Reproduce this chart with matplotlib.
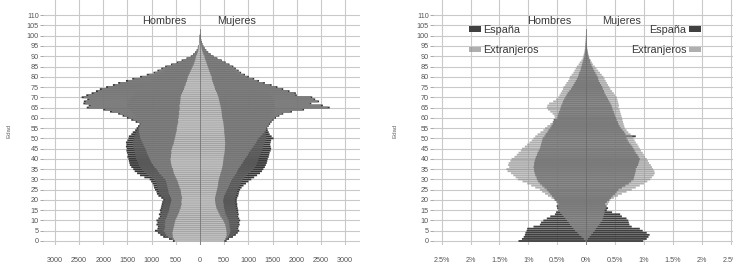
import numpy as np
import matplotlib
matplotlib.use('Agg')
import matplotlib.pyplot as plt
from matplotlib.patches import Patch

plt.rcParams['font.family'] = ['Liberation Sans', 'DejaVu Sans']

# Edades (un año por barra)
edad = np.arange(0, 101)

# ---- Pirámide izquierda: número de personas, cuatro series superpuestas ----
# Hombres
hom_1 = [560, 640, 760, 820, 870, 930, 880, 870, 900, 880,
         900, 860, 830, 850, 820, 830, 810, 800, 790, 780,
         760, 800, 860, 890, 900, 930, 950, 960, 980, 1010,
         1040, 1150, 1240, 1300, 1350, 1380, 1420, 1450, 1460, 1470,
         1480, 1500, 1490, 1510, 1520, 1515, 1530, 1520, 1530, 1500,
         1480, 1470, 1420, 1390, 1340, 1310, 1280, 1250, 1330, 1420,
         1510, 1600, 1690, 1860, 2000, 2340, 2300, 2410, 2400, 2330,
         2445, 2350, 2240, 2150, 2070, 1940, 1800, 1690, 1530, 1400,
         1240, 1100, 960, 880, 800, 720, 600, 480, 380, 280,
         190, 140, 100, 70, 45, 30, 20, 14, 10, 8, 6]
hom_2 = [540, 620, 730, 790, 840, 890, 850, 840, 860, 850,
         860, 830, 800, 810, 790, 790, 780, 770, 760, 750,
         730, 760, 810, 840, 850, 870, 880, 890, 900, 920,
         950, 1000, 1060, 1110, 1160, 1200, 1230, 1260, 1280, 1300,
         1320, 1330, 1340, 1350, 1360, 1370, 1380, 1380, 1390, 1380,
         1370, 1360, 1340, 1320, 1300, 1280, 1250, 1230, 1250, 1300,
         1300, 1320, 1350, 1400, 1450, 1500, 1500, 1500, 1480, 1450,
         1420, 1380, 1340, 1300, 1250, 1200, 1150, 1100, 1050, 1000,
         950, 880, 800, 730, 660, 600, 500, 400, 320, 240,
         160, 120, 85, 60, 40, 26, 17, 12, 8, 6, 5]
hom_3 = [520, 580, 660, 700, 720, 750, 730, 720, 730, 720,
         720, 700, 680, 670, 650, 640, 630, 620, 610, 600,
         590, 600, 620, 640, 650, 660, 670, 680, 690, 700,
         720, 760, 800, 840, 870, 900, 940, 970, 1000, 1020,
         1040, 1060, 1080, 1100, 1110, 1130, 1150, 1170, 1190, 1210,
         1230, 1240, 1250, 1260, 1260, 1270, 1250, 1230, 1300, 1390,
         1480, 1570, 1660, 1820, 1960, 2300, 2260, 2370, 2360, 2290,
         2400, 2310, 2200, 2110, 2030, 1900, 1760, 1650, 1490, 1360,
         1200, 1060, 930, 850, 770, 690, 575, 460, 360, 265,
         180, 132, 94, 65, 42, 28, 18, 13, 9, 7, 5]
hom_4 = [520, 540, 560, 565, 570, 560, 550, 540, 530, 520,
         510, 490, 470, 450, 430, 420, 400, 390, 380, 385,
         380, 370, 380, 390, 395, 400, 420, 430, 450, 460,
         480, 500, 520, 540, 550, 560, 580, 590, 600, 605,
         610, 600, 600, 590, 595, 580, 570, 550, 540, 530,
         520, 510, 500, 490, 480, 480, 470, 460, 450, 455,
         440, 440, 430, 435, 420, 420, 425, 410, 410, 400,
         400, 390, 370, 350, 330, 320, 300, 290, 270, 260,
         250, 230, 210, 190, 170, 150, 130, 115, 100, 90,
         80, 60, 45, 35, 28, 22, 15, 10, 7, 5, 4]
# Mujeres
muj_1 = [550, 600, 680, 740, 780, 810, 790, 800, 820, 810,
         830, 810, 790, 800, 790, 790, 780, 770, 770, 760,
         760, 770, 790, 800, 810, 830, 860, 900, 950, 1000,
         1060, 1120, 1180, 1240, 1280, 1310, 1340, 1360, 1380, 1390,
         1400, 1420, 1430, 1440, 1460, 1470, 1460, 1450, 1460, 1470,
         1520, 1480, 1440, 1420, 1400, 1390, 1420, 1450, 1480, 1520,
         1570, 1640, 1720, 1900, 2150, 2680, 2540, 2300, 2460, 2380,
         2320, 2000, 1980, 1850, 1720, 1600, 1480, 1340, 1220, 1120,
         1010, 930, 850, 800, 740, 690, 610, 530, 450, 360,
         280, 220, 170, 130, 95, 70, 50, 35, 25, 18, 14]
muj_2 = [530, 580, 655, 710, 750, 780, 760, 770, 790, 780,
         800, 780, 760, 765, 755, 750, 740, 735, 730, 725,
         720, 730, 745, 755, 765, 780, 800, 820, 840, 860,
         880, 920, 960, 1000, 1050, 1100, 1130, 1160, 1180, 1200,
         1210, 1230, 1250, 1260, 1280, 1300, 1310, 1320, 1340, 1350,
         1370, 1370, 1360, 1360, 1350, 1350, 1360, 1380, 1400, 1420,
         1440, 1460, 1480, 1500, 1520, 1540, 1540, 1530, 1520, 1500,
         1480, 1450, 1420, 1380, 1340, 1300, 1250, 1200, 1100, 1000,
         900, 830, 760, 720, 660, 610, 540, 470, 400, 320,
         250, 195, 150, 115, 84, 60, 43, 30, 21, 15, 12]
muj_3 = [500, 540, 580, 600, 620, 630, 620, 610, 610, 600,
         590, 570, 550, 530, 520, 510, 500, 490, 490, 480,
         480, 490, 500, 520, 540, 560, 580, 600, 620, 640,
         660, 690, 720, 750, 770, 790, 820, 850, 880, 900,
         930, 960, 990, 1010, 1040, 1070, 1100, 1130, 1160, 1180,
         1210, 1250, 1290, 1330, 1360, 1370, 1400, 1430, 1460, 1500,
         1550, 1620, 1700, 1870, 2120, 2640, 2500, 2270, 2430, 2350,
         2290, 1970, 1950, 1820, 1690, 1570, 1450, 1310, 1190, 1090,
         980, 900, 825, 775, 715, 665, 590, 510, 435, 345,
         268, 210, 162, 124, 90, 66, 47, 33, 23, 17, 13]
muj_4 = [500, 520, 540, 550, 550, 545, 540, 530, 520, 500,
         480, 450, 420, 400, 380, 360, 340, 330, 320, 315,
         310, 310, 320, 330, 340, 350, 360, 370, 375, 380,
         390, 400, 415, 425, 440, 450, 460, 470, 475, 480,
         485, 490, 500, 505, 510, 515, 515, 520, 520, 515,
         515, 510, 505, 500, 500, 495, 490, 485, 480, 470,
         460, 455, 450, 445, 440, 430, 420, 410, 400, 390,
         380, 365, 350, 330, 310, 300, 285, 270, 255, 245,
         240, 220, 205, 190, 175, 160, 145, 130, 115, 100,
         90, 70, 55, 42, 32, 25, 18, 13, 9, 6, 4]
colores_izq = ['#383838', '#5a5a5a', '#7e7e7e', '#bebebe']

# ---- Pirámide derecha: % por lugar de nacimiento ----
esp_hom = [1.17, 1.11, 1.08, 1.06, 1.05, 1.03, 1.02, 0.91, 0.80, 0.78,
           0.74, 0.68, 0.62, 0.54, 0.52, 0.48, 0.50, 0.51, 0.48, 0.50,
           0.54, 0.56, 0.59, 0.62, 0.65, 0.68, 0.72, 0.76, 0.80, 0.83,
           0.85, 0.86, 0.88, 0.89, 0.90, 0.90, 0.91, 0.90, 0.90, 0.89,
           0.88, 0.87, 0.85, 0.84, 0.82, 0.80, 0.79, 0.78, 0.77, 0.76,
           0.75, 0.72, 0.70, 0.67, 0.65, 0.62, 0.60, 0.58, 0.57, 0.56,
           0.50, 0.49, 0.48, 0.47, 0.45, 0.44, 0.43, 0.41, 0.40, 0.38,
           0.36, 0.34, 0.32, 0.29, 0.26, 0.24, 0.22, 0.20, 0.18, 0.16,
           0.14, 0.13, 0.12, 0.10, 0.09, 0.08, 0.07, 0.06, 0.05, 0.04,
           0.03, 0.025, 0.02, 0.015, 0.012, 0.01, 0.008, 0.006, 0.004, 0.003, 0.002]
ext_hom = [0.01, 0.04, 0.08, 0.12, 0.15, 0.19, 0.22, 0.25, 0.28, 0.30,
           0.33, 0.36, 0.39, 0.42, 0.45, 0.47, 0.48, 0.49, 0.50, 0.52,
           0.55, 0.60, 0.66, 0.71, 0.76, 0.80, 0.88, 0.95, 1.02, 1.10,
           1.18, 1.22, 1.26, 1.30, 1.36, 1.38, 1.33, 1.35, 1.34, 1.31,
           1.29, 1.24, 1.20, 1.17, 1.13, 1.11, 1.06, 1.02, 0.98, 0.94,
           0.91, 0.88, 0.84, 0.79, 0.74, 0.71, 0.67, 0.62, 0.58, 0.55,
           0.54, 0.55, 0.58, 0.62, 0.66, 0.68, 0.67, 0.64, 0.57, 0.52,
           0.48, 0.46, 0.44, 0.42, 0.40, 0.39, 0.36, 0.34, 0.31, 0.29,
           0.28, 0.25, 0.22, 0.20, 0.18, 0.16, 0.13, 0.11, 0.08, 0.06,
           0.05, 0.04, 0.03, 0.025, 0.02, 0.015, 0.01, 0.008, 0.006, 0.004, 0.003]
esp_muj = [0.99, 1.05, 1.08, 1.10, 1.05, 0.98, 0.93, 0.79, 0.75, 0.74,
           0.73, 0.70, 0.62, 0.59, 0.45, 0.36, 0.38, 0.35, 0.33, 0.36,
           0.40, 0.43, 0.46, 0.50, 0.53, 0.56, 0.62, 0.68, 0.74, 0.78,
           0.82, 0.83, 0.84, 0.85, 0.86, 0.86, 0.88, 0.90, 0.91, 0.92,
           0.93, 0.91, 0.89, 0.86, 0.84, 0.82, 0.80, 0.77, 0.74, 0.72,
           0.70, 0.86, 0.68, 0.66, 0.63, 0.60, 0.58, 0.56, 0.55, 0.53,
           0.52, 0.50, 0.49, 0.48, 0.46, 0.45, 0.44, 0.42, 0.40, 0.38,
           0.36, 0.34, 0.32, 0.31, 0.29, 0.28, 0.26, 0.24, 0.22, 0.21,
           0.20, 0.18, 0.16, 0.14, 0.12, 0.10, 0.09, 0.07, 0.07, 0.05,
           0.04, 0.03, 0.025, 0.02, 0.015, 0.01, 0.008, 0.006, 0.004, 0.003, 0.002]
ext_muj = [0.01, 0.03, 0.06, 0.09, 0.12, 0.15, 0.17, 0.20, 0.23, 0.25,
           0.28, 0.29, 0.30, 0.31, 0.32, 0.32, 0.34, 0.36, 0.38, 0.40,
           0.42, 0.48, 0.55, 0.62, 0.70, 0.79, 0.86, 0.93, 1.00, 1.06,
           1.11, 1.14, 1.17, 1.19, 1.18, 1.16, 1.14, 1.12, 1.09, 1.07,
           1.05, 1.02, 1.00, 0.98, 0.95, 0.93, 0.91, 0.89, 0.86, 0.84,
           0.82, 0.80, 0.77, 0.73, 0.70, 0.67, 0.66, 0.65, 0.64, 0.63,
           0.62, 0.61, 0.60, 0.59, 0.58, 0.56, 0.57, 0.56, 0.55, 0.54,
           0.53, 0.50, 0.48, 0.45, 0.42, 0.40, 0.38, 0.36, 0.34, 0.32,
           0.30, 0.27, 0.24, 0.21, 0.18, 0.15, 0.12, 0.10, 0.08, 0.06,
           0.05, 0.04, 0.03, 0.025, 0.02, 0.015, 0.01, 0.008, 0.006, 0.004, 0.003]

ticks_izq = [-3000, -2500, -2000, -1500, -1000, -500, 0, 500, 1000, 1500, 2000, 2500, 3000]
ticks_der = [-2.5, -2, -1.5, -1, -0.5, 0, 0.5, 1, 1.5, 2, 2.5]
etiquetas_der = ['2.5%', '2%', '1.5%', '1%', '0.5%', '0%', '0.5%', '1%', '1.5%', '2%', '2.5%']

W, H = 733, 269
fig = plt.figure(figsize=(W / 100, H / 100), dpi=100)
ax1 = fig.add_axes([43 / W, 24 / H, 317 / W, 245 / H])
ax2 = fig.add_axes([433 / W, 24 / H, 300 / W, 245 / H])

txt = '#3a3a3a'
grid_c = '#c9c9c9'
bh = 0.9


def estilo(ax, xlim):
    ax.set_xlim(*xlim)
    ax.set_ylim(-1.95, 117.4)
    ax.set_yticks(range(0, 111, 5))
    for s in ax.spines.values():
        s.set_visible(False)
    ax.set_axisbelow(True)
    ax.grid(True, color=grid_c, lw=0.8)
    ax.tick_params(axis='y', length=2.5, width=0.6, color='#999999', pad=0.5,
                   labelsize=5.2, labelcolor='#555555')
    ax.tick_params(axis='x', length=0, pad=9, labelsize=5.2, labelcolor='#555555')
    ax.set_ylabel('Edad', fontsize=4.4, color='#666666')


# Izquierda
estilo(ax1, (-3244, 3306))
for serie_h, serie_m, c in zip([hom_1, hom_2, hom_3, hom_4],
                               [muj_1, muj_2, muj_3, muj_4], colores_izq):
    ax1.barh(edad, -np.array(serie_h), height=bh, color=c, lw=0, snap=False)
    ax1.barh(edad, serie_m, height=bh, color=c, lw=0, snap=False)
ax1.axvline(0, color='#6a6a6a', lw=0.5, ymax=0.88, zorder=5)
ax1.set_xticks(ticks_izq)
ax1.set_xticklabels([str(abs(t)) for t in ticks_izq])
ax1.yaxis.set_label_coords(-0.098, 0.465)
ax1.text(-733, 107.4, 'Hombres', ha='center', va='center', fontsize=7.8, color=txt)
ax1.text(764, 107.4, 'Mujeres', ha='center', va='center', fontsize=7.8, color=txt)

# Derecha
estilo(ax2, (-2.65, 2.543))
c_esp = '#404040'
c_ext = '#919191'
ax2.barh(edad, -np.array(esp_hom), height=bh, color=c_esp, lw=0, snap=False)
ax2.barh(edad, esp_muj, height=bh, color=c_esp, lw=0, snap=False)
ax2.barh(edad, -np.array(ext_hom), height=bh, color=c_ext, alpha=0.72, lw=0, snap=False)
ax2.barh(edad, ext_muj, height=bh, color=c_ext, alpha=0.72, lw=0, snap=False)
ax2.axvline(0, color='#6a6a6a', lw=0.5, ymax=0.88, zorder=5)
ax2.set_xticks(ticks_der)
ax2.set_xticklabels(etiquetas_der)
ax2.yaxis.set_label_coords(-0.117, 0.465)
ax2.text(-0.63, 107.4, 'Hombres', ha='center', va='center', fontsize=7.8, color=txt)
ax2.text(0.61, 107.4, 'Mujeres', ha='center', va='center', fontsize=7.8, color=txt)

h_esp = Patch(facecolor=c_esp, lw=0)
h_ext = Patch(facecolor=c_ext, alpha=0.72, lw=0)
kw = dict(fontsize=7.8, frameon=False, handlelength=1.1, handleheight=0.45,
          handletextpad=0.25, labelspacing=0.95, borderpad=0, borderaxespad=0,
          labelcolor=txt)
leg1 = ax2.legend([h_esp, h_ext], ['España', 'Extranjeros'], loc='upper left',
                  bbox_to_anchor=(36 / 300, 1 - 25 / 245), **kw)
ax2.add_artist(leg1)
ax2.legend([h_esp, h_ext], ['España', 'Extranjeros'], loc='upper right',
           bbox_to_anchor=(268 / 300, 1 - 25 / 245), markerfirst=False, **kw)

fig.savefig('out.png', dpi=100)
